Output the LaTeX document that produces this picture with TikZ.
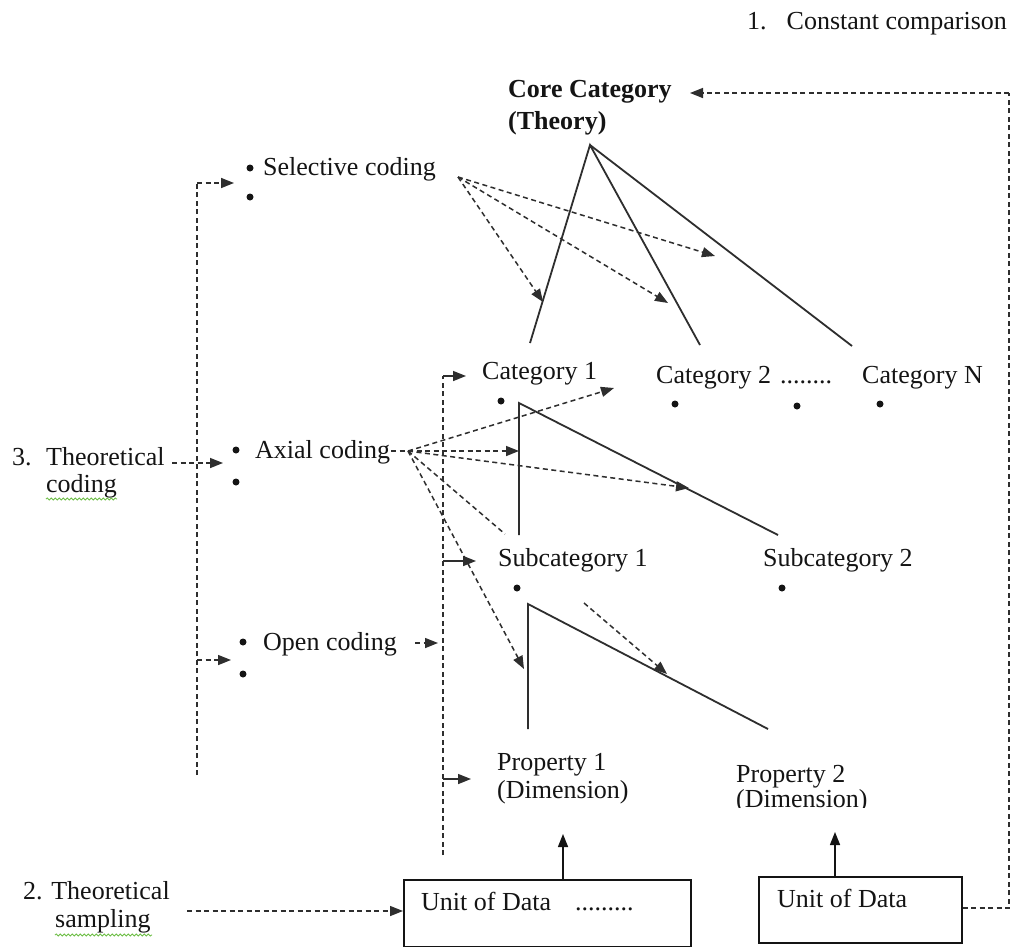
\documentclass[tikz,border=0pt]{standalone}
\usepackage{fontspec}
\setmainfont{Liberation Serif}
\usetikzlibrary{arrows.meta,decorations.pathmorphing}
\definecolor{ln}{HTML}{2E2E2E}
\definecolor{tx}{HTML}{141414}
\definecolor{spell}{HTML}{6DBE45}
\tikzset{
  lbl/.style={inner sep=0pt, anchor=base west, text=tx, font=\fontsize{26}{30}\selectfont},
  blbl/.style={lbl, font=\fontsize{26}{30}\selectfont\bfseries},
  bul/.style={circle, fill=tx, inner sep=0pt, minimum size=7pt},
  dline/.style={draw=ln, dash pattern=on 5pt off 3.5pt, line width=1.5pt},
  sline/.style={draw=ln, line width=1.8pt},
  arr/.style={draw=ln, line width=1.5pt},
  tip/.style={-{Triangle[length=13pt,width=10pt]}},
  ubox/.style={draw=tx, line width=1.5pt, inner sep=0pt},
  wavy/.style={draw=spell, line width=0.8pt, decorate, decoration={snake, amplitude=1.1pt, segment length=4pt}}
}
\begin{document}
\begin{tikzpicture}[x=1pt,y=-1pt]
\path[use as bounding box, fill=white] (0,0) rectangle (1012,946);

% ---- texts ----
\node[lbl] (cc) at (747,29) {1.\hspace{20pt}Constant comparison};
\node[blbl] (core1) at (508,97) {Core Category};
\node[blbl] (core2) at (508,129) {(Theory)};

\node[bul] (sb1) at (250,168) {};
\node[bul] (sb2) at (250,197) {};
\node[lbl] (sel) at (263,175) {Selective coding};

\node[lbl] (tc1) at (12,465) {3.\hspace{14.5pt}Theoretical};
\node[lbl] (tc2) at (46,492) {coding};
\node[bul] (ab1) at (236,450) {};
\node[bul] (ab2) at (236,482) {};
\node[lbl] (ax) at (255,458) {Axial coding};

\node[bul] (ob1) at (243,642) {};
\node[bul] (ob2) at (243,674) {};
\node[lbl] (op) at (263,650) {Open coding};

\node[lbl] (cat1) at (482,379) {Category 1};
\node[lbl] (cat2) at (656,383) {Category 2};
\node[lbl] (dots1) at (780,383) {........};
\node[lbl] (catn) at (862,383) {Category N};
\node[bul] (cb1) at (501,401) {};
\node[bul] (cb2) at (675,404) {};
\node[bul] (cb3) at (797,406) {};
\node[bul] (cb4) at (880,404) {};

\node[lbl] (sub1) at (498,566) {Subcategory 1};
\node[lbl] (sub2) at (763,566) {Subcategory 2};
\node[bul] (scb1) at (517,588) {};
\node[bul] (scb2) at (782,588) {};

\node[lbl] (p1a) at (497,770) {Property 1};
\node[lbl] (p1b) at (497,798) {(Dimension)};
\begin{scope}
\clip (700,740) rectangle (900,807);
\node[lbl] (p2a) at (736,782) {Property 2};
\node[lbl] (p2b) at (736,807) {(Dimension)};
\end{scope}

\node[lbl] (ts1) at (23,899) {2. Theoretical};
\node[lbl] (ts2) at (55,927) {sampling};

\node[ubox, minimum width=287pt, minimum height=67pt, anchor=north west] (box1) at (403,879) {};
\node[ubox, minimum width=203pt, minimum height=66pt, anchor=north west] (box2) at (758,876) {};
\node[lbl] (u1) at (421,910) {Unit of Data};
\node[lbl] (u1d) at (575,910) {.........};
\node[lbl] (u2) at (777,907) {Unit of Data};

% spell-check underlines
\draw[wavy] (tc2.base west) ++(0,7) -- ++(71,0);
\draw[wavy] (ts2.base west) ++(0,8) -- ++(97,0);

% ---- coordinates ----
\coordinate (apex) at (590,145);
\coordinate (c1e) at (530,343);
\coordinate (c2e) at (700,345);
\coordinate (c3e) at (852,346);
\coordinate (selS) at (458,177);
\coordinate (selT1) at (543,302);
\coordinate (selT2) at (668,303);
\coordinate (selT3) at (715,256);
\coordinate (axS) at (408,451);
\coordinate (axE) at (391,451);
\coordinate (axT1) at (614,388);
\coordinate (axT2) at (519,451);
\coordinate (axT3) at (689,488);
\coordinate (axT4) at (505,534);
\coordinate (axT5) at (524,669);
\coordinate (t1a) at (519,403);
\coordinate (t1b) at (519,535);
\coordinate (t1c) at (778,535);
\coordinate (t2a) at (528,604);
\coordinate (t2b) at (528,729);
\coordinate (t2c) at (768,729);
\coordinate (subS) at (584,603);
\coordinate (subT) at (667,674);
\coordinate (lvTop) at (197,183);
\coordinate (lvBot) at (197,775);
\coordinate (lvOpen) at (197,660);
\coordinate (selArr) at (234,183);
\coordinate (opArr) at (231,660);
\coordinate (tcS) at (172,463);
\coordinate (tcT) at (223,463);
\coordinate (mvTop) at (443,376);
\coordinate (mvBot) at (443,855);
\coordinate (mvSub) at (443,561);
\coordinate (mvProp) at (443,779);
\coordinate (catArr) at (466,376);
\coordinate (subArr) at (476,561);
\coordinate (propArr) at (471,779);
\coordinate (opS) at (415,643);
\coordinate (opT) at (438,643);
\coordinate (p1in) at (563,834);
\coordinate (p2in) at (835,832);
\coordinate (samS) at (187,911);
\coordinate (rvBot) at (1009,908);
\coordinate (rvTop) at (1009,93);
\coordinate (coreIn) at (690,93);

% ---- solid tree lines ----
\draw[sline] (c1e) -- (apex) -- (c2e);
\draw[sline] (apex) -- (c3e);
\draw[sline] (t1b) -- (t1a) -- (t1c);
\draw[sline] (t2b) -- (t2a) -- (t2c);

% ---- selective coding arrows ----
\draw[dline,tip] (selS) -- (selT1);
\draw[dline,tip] (selS) -- (selT2);
\draw[dline,tip] (selS) -- (selT3);

% ---- axial coding arrows ----
\draw[dline] (axE) -- (axS);
\draw[dline,tip] (axS) -- (axT1);
\draw[dline,tip] (axS) -- (axT2);
\draw[dline,tip] (axS) -- (axT3);
\draw[dline] (axS) -- (axT4);
\draw[dline,tip] (axS) -- (axT5);
\draw[dline,tip] (subS) -- (subT);

% ---- left bracket ----
\draw[dline] (lvBot) -- (lvTop);
\draw[dline,tip] (lvTop) -- (selArr);
\draw[dline,tip] (lvOpen) -- (opArr);
\draw[dline,tip] (tcS) -- (tcT);

% ---- middle bracket ----
\draw[dline] (mvBot) -- (mvTop);
\draw[arr, tip] (mvTop) -- (catArr);
\draw[arr, tip] (mvSub) -- (subArr);
\draw[arr, tip] (mvProp) -- (propArr);
\draw[dline,tip] (opS) -- (opT);

% ---- data ----
\draw[arr, draw=tx, tip] (box1.north -| p1in) -- (p1in);
\draw[arr, draw=tx, tip] (box2.north -| p2in) -- (p2in);
\draw[dline,tip] (samS) -- (samS -| box1.west);
\draw[dline] (box2.east |- rvBot) -- (rvBot) -- (rvTop);
\draw[dline,tip] (rvTop) -- (coreIn);
\end{tikzpicture}
\end{document}
